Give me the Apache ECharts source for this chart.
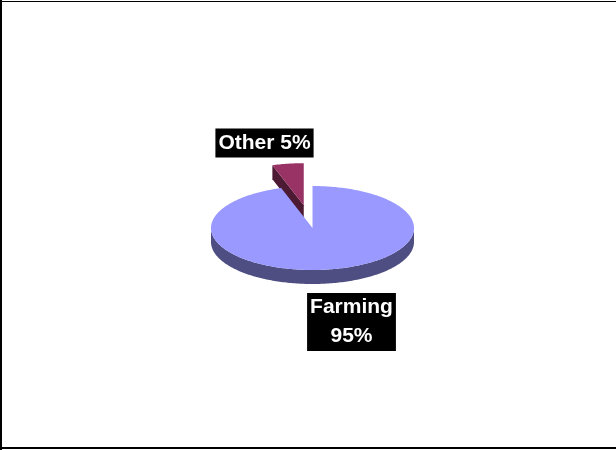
<!DOCTYPE html>
<html>
<head>
<meta charset="utf-8">
<script src="https://cdn.jsdelivr.net/npm/echarts@6/dist/echarts.min.js"></script>
<style>
  html, body { margin: 0; padding: 0; background: #fff; }
  #chart { width: 616px; height: 450px; }
</style>
</head>
<body>
<div id="chart"></div>
<script>
// Slice data
const categories = ['Farming', 'Other'];
const shares = [95, 5];

// Slice styling
const topColors = ['#9999FF', '#993366'];
const sideColors = ['#4E4E82', '#4D1A33'];
const explodeRatio = [0, 0.55];          // pull-out as a fraction of the radius
const labelJoin = ['\n', ' '];
const labelOffsets = [[39, 94], [-48, -85]];

// 3D pie geometry (tilted ellipse with a rim)
const pie = { cx: 312.5, cy: 228, rx: 101.5, ry: 42, depth: 14 };

const total = shares.reduce((a, b) => a + b, 0);
const startShare = shares.map((_, i) => shares.slice(0, i).reduce((a, b) => a + b, 0));

const rad = d => d * Math.PI / 180;
// angle measured clockwise from 12 o'clock
function pt(deg, ox, oy, dz) {
  return [ox + pie.rx * Math.sin(rad(deg)), oy - pie.ry * Math.cos(rad(deg)) + (dz || 0)];
}
function arc(a, b, ox, oy, dz) {
  const pts = [];
  const n = Math.max(2, Math.ceil(Math.abs(b - a)));
  for (let k = 0; k <= n; k++) pts.push(pt(a + (b - a) * k / n, ox, oy, dz));
  return pts;
}

function renderItem(params, api) {
  const i = params.dataIndex;
  const v = api.value(0);
  const a0 = startShare[i] / total * 360;
  const a1 = a0 + v / total * 360;
  const mid = (a0 + a1) / 2;
  const e = explodeRatio[i];
  const ox = pie.cx + e * pie.rx * Math.sin(rad(mid));
  const oy = pie.cy - e * pie.ry * Math.cos(rad(mid));
  const d = pie.depth;
  const children = [];

  // front rim
  const s0 = Math.max(a0, 90), s1 = Math.min(a1, 270);
  if (s1 > s0) {
    const top = arc(s0, s1, ox, oy, 0);
    const bot = arc(s1, s0, ox, oy, d);
    children.push({ type: 'polygon', z2: 1, shape: { points: top.concat(bot) },
      style: { fill: sideColors[i] } });
  }
  // cut faces
  const eps = 1e-6;
  if (Math.sin(rad(a0)) < -eps) {
    const p = pt(a0, ox, oy, 0);
    children.push({ type: 'polygon', z2: 1,
      shape: { points: [[ox, oy], p, [p[0], p[1] + d], [ox, oy + d]] },
      style: { fill: sideColors[i] } });
  }
  if (Math.sin(rad(a1)) > eps) {
    const p = pt(a1, ox, oy, 0);
    children.push({ type: 'polygon', z2: 1,
      shape: { points: [[ox, oy], p, [p[0], p[1] + d], [ox, oy + d]] },
      style: { fill: sideColors[i] } });
  }
  // top face
  children.push({ type: 'polygon', z2: 2,
    shape: { points: [[ox, oy]].concat(arc(a0, a1, ox, oy, 0)) },
    style: { fill: topColors[i] } });

  // data label
  const pct = Math.round(v / total * 100);
  children.push({ type: 'text', z2: 3,
    x: pie.cx + labelOffsets[i][0], y: pie.cy + labelOffsets[i][1],
    style: {
      text: categories[i] + labelJoin[i] + pct + '%',
      fill: '#ffffff',
      fontFamily: '"Liberation Sans", Arial, sans-serif',
      fontWeight: 'bold',
      fontSize: 21,
      lineHeight: 29,
      align: 'center',
      verticalAlign: 'middle',
      backgroundColor: '#000000',
      padding: [0, 3]
    } });

  return { type: 'group', children };
}

const chart = echarts.init(document.getElementById('chart'), null, { renderer: 'canvas' });
chart.setOption({
  animation: false,
  backgroundColor: '#ffffff',
  graphic: [
    { type: 'rect', left: 0, top: 0, shape: { width: 2, height: 450 }, style: { fill: '#000' } },
    { type: 'rect', left: 0, top: 1, shape: { width: 616, height: 1 }, style: { fill: '#000' } },
    { type: 'rect', left: 0, top: 447, shape: { width: 616, height: 2 }, style: { fill: '#000' } }
  ],
  series: [{
    type: 'custom',
    coordinateSystem: 'none',
    silent: true,
    renderItem: renderItem,
    data: shares.map((v, i) => ({ value: [v], name: categories[i] }))
  }]
});
</script>
</body>
</html>
